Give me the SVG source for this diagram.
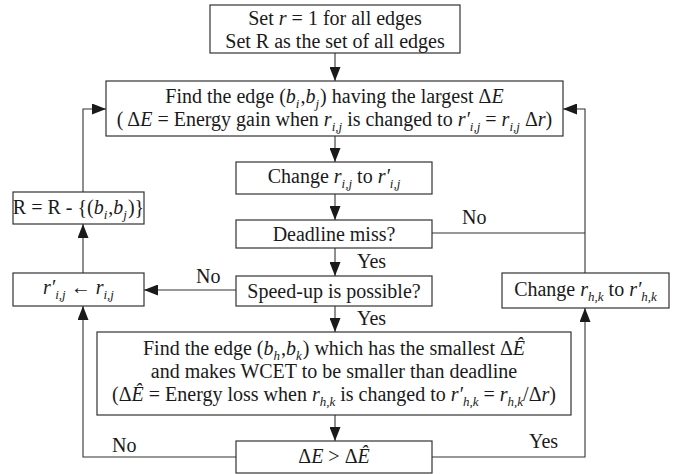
<svg xmlns="http://www.w3.org/2000/svg" width="684" height="474" viewBox="0 0 684 474">
  <style>
    .box { fill: #fff; stroke: #333; stroke-width: 1.2; }
    .wire { fill: none; stroke: #333; stroke-width: 1.1; }
    text { font-family: "Liberation Serif", "Times New Roman", serif; font-size: 20px; fill: #1a1a1a; }
    .c { text-anchor: middle; }
    .i { font-style: italic; }
    .s { font-size: 13px; font-style: italic; }
  </style>
  <defs>
    <marker id="arrow" markerUnits="userSpaceOnUse" markerWidth="14" markerHeight="11" refX="14" refY="5.5" orient="auto">
      <path d="M0,0 L14,5.5 L0,11 z" fill="#1a1a1a"/>
    </marker>
  </defs>

  <!-- connectors and their labels -->
  <g id="connectors">
    <path class="wire" d="M335,53 V81" marker-end="url(#arrow)"/>
    <path class="wire" d="M335,136 V162" marker-end="url(#arrow)"/>
    <path class="wire" d="M335,194 V220" marker-end="url(#arrow)"/>
    <path class="wire" d="M335,248 V276" marker-end="url(#arrow)"/>
    <path class="wire" d="M335,306 V332" marker-end="url(#arrow)"/>
    <path class="wire" d="M335,415 V441" marker-end="url(#arrow)"/>
    <path class="wire" d="M236,290 H144" marker-end="url(#arrow)"/>
    <path class="wire" d="M83,273 V224" marker-end="url(#arrow)"/>
    <path class="wire" d="M83,192 V109 H106" marker-end="url(#arrow)"/>
    <path class="wire" d="M432,233 H585"/>
    <path class="wire" d="M585,273 V109 H563" marker-end="url(#arrow)"/>
    <path class="wire" d="M236,457 H83 V306" marker-end="url(#arrow)"/>
    <path class="wire" d="M432,457 H585 V308" marker-end="url(#arrow)"/>
    <text x="357" y="268">Yes</text>
    <text x="357" y="325">Yes</text>
    <text x="462" y="224">No</text>
    <text x="196" y="283">No</text>
    <text x="112" y="452">No</text>
    <text x="529" y="448">Yes</text>
  </g>

  <g id="init">
    <rect class="box" x="210" y="5" width="250" height="48"/>
    <text class="c" x="335" y="25">Set <tspan class="i">r</tspan> = 1 for all edges</text>
    <text class="c" x="335" y="48">Set R as the set of all edges</text>
  </g>

  <g id="find-max">
    <rect class="box" x="106" y="81" width="457" height="55"/>
    <text class="c" x="334.5" y="103">Find the edge (<tspan class="i">b</tspan><tspan class="s" dy="5">i</tspan><tspan dx="1" dy="-5">,</tspan><tspan class="i">b</tspan><tspan class="s" dy="5">j</tspan><tspan dx="1" dy="-5">) having the largest Δ</tspan><tspan class="i">E</tspan></text>
    <text class="c" x="334.5" y="126">( Δ<tspan class="i">E</tspan> = Energy gain when <tspan class="i">r</tspan><tspan class="s" dy="5">i,j</tspan><tspan dy="-5"> is changed to </tspan><tspan class="i">r′</tspan><tspan class="s" dy="5">i,j</tspan><tspan dy="-5"> = </tspan><tspan class="i">r</tspan><tspan class="s" dy="5">i,j</tspan><tspan dy="-5"> Δ</tspan><tspan class="i">r</tspan>)</text>
  </g>

  <g id="change-ij">
    <rect class="box" x="236" y="162" width="196" height="32"/>
    <text class="c" x="334" y="183">Change <tspan class="i">r</tspan><tspan class="s" dy="5">i,j</tspan><tspan dy="-5"> to </tspan><tspan class="i">r′</tspan><tspan class="s" dy="5">i,j</tspan></text>
  </g>

  <g id="deadline">
    <rect class="box" x="236" y="220" width="196" height="28"/>
    <text class="c" x="334" y="241">Deadline miss?</text>
  </g>

  <g id="speedup">
    <rect class="box" x="236" y="276" width="196" height="30"/>
    <text class="c" x="334" y="298">Speed-up is possible?</text>
  </g>

  <g id="remove-edge">
    <rect class="box" x="13" y="192" width="131" height="32"/>
    <text class="c" x="78.5" y="214">R = R - {(<tspan class="i">b</tspan><tspan class="s" dy="5">i</tspan><tspan dx="1" dy="-5">,</tspan><tspan class="i">b</tspan><tspan class="s" dy="5">j</tspan><tspan dx="1" dy="-5">)}</tspan></text>
  </g>

  <g id="restore">
    <rect class="box" x="13" y="273" width="131" height="33"/>
    <text class="c" x="78.5" y="294"><tspan class="i">r′</tspan><tspan class="s" dy="5">i,j</tspan><tspan dy="-5"> ← </tspan><tspan class="i">r</tspan><tspan class="s" dy="5">i,j</tspan></text>
  </g>

  <g id="change-hk">
    <rect class="box" x="502" y="273" width="167" height="35"/>
    <text class="c" x="585.5" y="296">Change <tspan class="i">r</tspan><tspan class="s" dy="5">h,k</tspan><tspan dy="-5"> to </tspan><tspan class="i">r′</tspan><tspan class="s" dy="5">h,k</tspan></text>
  </g>

  <g id="find-min">
    <rect class="box" x="97" y="332" width="474" height="83"/>
    <text class="c" x="334" y="355">Find the edge (<tspan class="i">b</tspan><tspan class="s" dy="5">h</tspan><tspan dx="1" dy="-5">,</tspan><tspan class="i">b</tspan><tspan class="s" dy="5">k</tspan><tspan dx="1" dy="-5">) which has the smallest Δ</tspan><tspan class="i">Ê</tspan></text>
    <text class="c" x="334" y="378">and makes WCET to be smaller than deadline</text>
    <text class="c" x="334" y="401">(Δ<tspan class="i">Ê</tspan> = Energy loss when <tspan class="i">r</tspan><tspan class="s" dy="5">h,k</tspan><tspan dy="-5"> is changed to </tspan><tspan class="i">r′</tspan><tspan class="s" dy="5">h,k</tspan><tspan dy="-5"> = </tspan><tspan class="i">r</tspan><tspan class="s" dy="5">h,k</tspan><tspan dy="-5">/Δ</tspan><tspan class="i">r</tspan>)</text>
  </g>

  <g id="compare">
    <rect class="box" x="236" y="441" width="196" height="32"/>
    <text class="c" x="334" y="463">Δ<tspan class="i">E</tspan> &gt; Δ<tspan class="i">Ê</tspan></text>
  </g>
</svg>
